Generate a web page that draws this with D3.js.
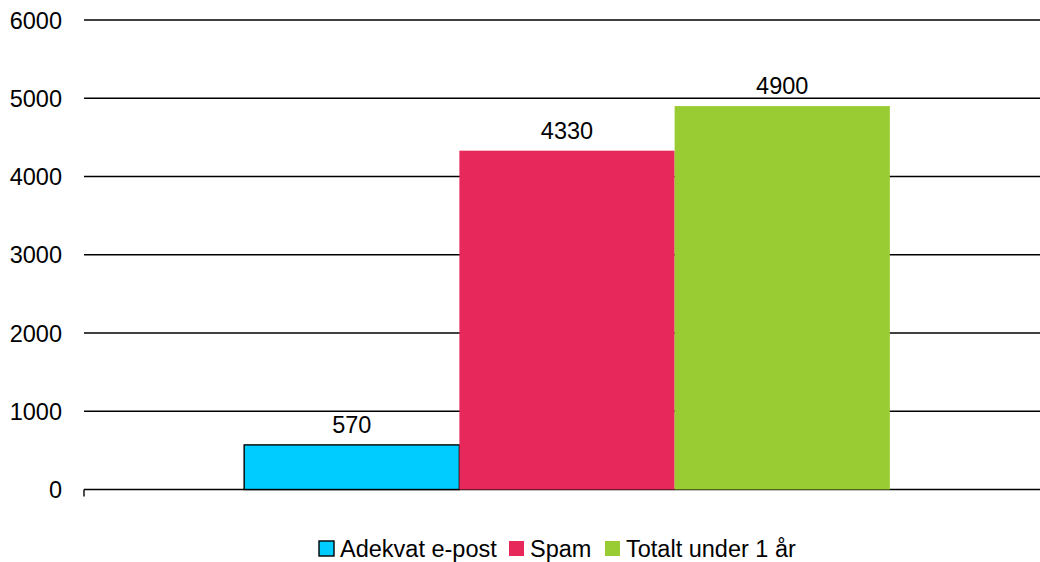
<!DOCTYPE html>
<html><head><meta charset="utf-8">
<script src="https://cdn.jsdelivr.net/npm/d3@7"></script>
<style>body{margin:0;background:#fff}svg{display:block}text{font-family:"Liberation Sans",Arial,sans-serif;fill:#000}</style>
</head><body><svg id="c" width="1040" height="562"></svg>
<script>
const categories = [""];
const seriesNames = ["Adekvat e-post", "Spam", "Totalt under 1 år"];
const seriesValues = [570, 4330, 4900];
const seriesColors = ["#00CCFF", "#E6295A", "#99CC33"];
const yTicks = [0, 1000, 2000, 3000, 4000, 5000, 6000];

(function () {
const svg = d3.select("#c");
const mLeft = 84, mRight = 1050, mTop = 20, mBottom = 489.5;
const fs = 23.5;
const y = d3.scaleLinear().domain([0, 6000]).range([mBottom, mTop]);
const x0 = d3.scaleBand().domain(categories).range([mLeft, mRight]).paddingOuter(0.248).paddingInner(0);
const x1 = d3.scaleBand().domain(seriesNames).range([0, x0.bandwidth()]).padding(0);

// gridlines
svg.append("g").selectAll("line").data(yTicks).join("line")
  .attr("x1", mLeft).attr("x2", 1040)
  .attr("y1", d => y(d)).attr("y2", d => y(d))
  .attr("stroke", "#000").attr("stroke-width", 1.4);

// y labels
svg.append("g").selectAll("text").data(yTicks).join("text")
  .attr("x", 62).attr("y", d => y(d) + 8.5)
  .attr("text-anchor", "end").attr("font-size", fs)
  .text(d => d);

// category tick
svg.append("line").attr("x1", mLeft).attr("x2", mLeft).attr("y1", mBottom).attr("y2", mBottom + 7)
  .attr("stroke", "#000").attr("stroke-width", 1.4);

const data = seriesNames.map((n, i) => ({name: n, value: seriesValues[i], color: seriesColors[i], cat: categories[0]}));

const g = svg.append("g");
g.selectAll("rect").data(data).join("rect")
  .attr("x", d => x0(d.cat) + x1(d.name))
  .attr("y", d => y(d.value))
  .attr("width", x1.bandwidth())
  .attr("height", d => mBottom - y(d.value))
  .attr("fill", d => d.color)
  .attr("stroke", (d, i) => i === 0 ? "#000" : "none")
  .attr("stroke-width", 1.4);

g.selectAll("text").data(data).join("text")
  .attr("x", d => x0(d.cat) + x1(d.name) + x1.bandwidth() / 2)
  .attr("y", d => y(d.value) - 12)
  .attr("text-anchor", "middle").attr("font-size", fs)
  .text(d => d.value);

// legend
const legX = [319, 509, 605];
const leg = svg.append("g");
data.forEach((d, i) => {
  leg.append("rect").attr("x", legX[i]).attr("y", 541).attr("width", 15).attr("height", 15)
    .attr("fill", d.color).attr("stroke", i === 0 ? "#000" : "none").attr("stroke-width", 1.4);
  leg.append("text").attr("x", legX[i] + 21).attr("y", 556.5).attr("font-size", fs).text(d.name);
});
})();
</script></body></html>
